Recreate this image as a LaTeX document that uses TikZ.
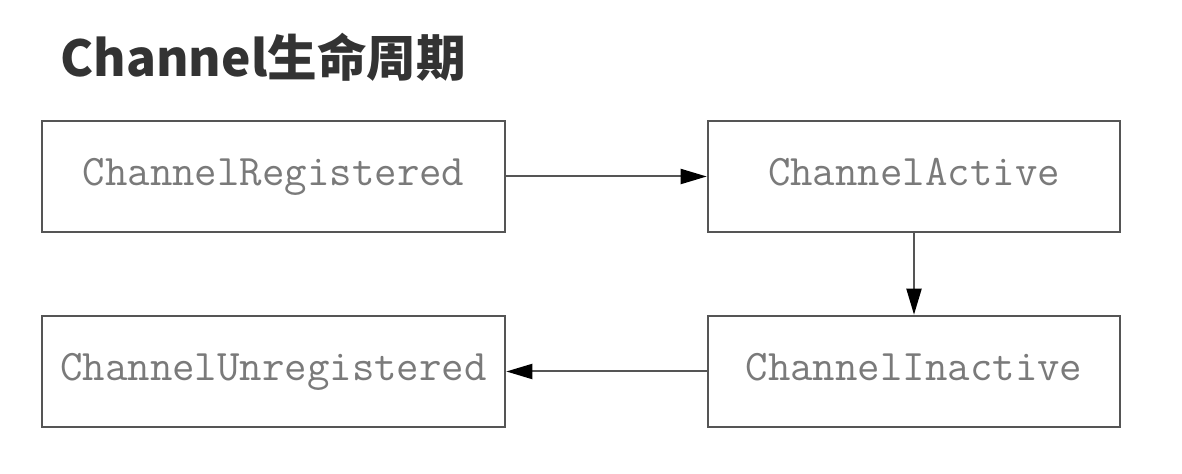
\documentclass[tikz,border=0pt]{standalone}
\usepackage{fontspec}
\newfontfamily\cjk{Noto Sans CJK SC}
\usepackage{xcolor}
\usetikzlibrary{positioning,arrows.meta}

\definecolor{boxline}{HTML}{555555}
\definecolor{boxtext}{HTML}{7A7A7A}
\definecolor{titletext}{HTML}{333333}

\tikzset{
    statebox/.style={draw=boxline, line width=1.3pt, rectangle, fill=white,
        minimum height=55.5pt, inner sep=0pt, text height=0.9em, text depth=0em,
        font=\ttfamily\fontsize{21.8}{23}\selectfont, text=boxtext},
    flow/.style={line width=1pt, color=boxline,
        -{Triangle[length=13pt,width=7.5pt,color=black]}}
}

\begin{document}
\begin{tikzpicture}[x=0.5pt, y=-0.5pt]
    \useasboundingbox (0,0) rectangle (1182,474);

    % title
    \node[anchor=base west, inner sep=0pt, text=titletext,
        font=\cjk\bfseries\fontsize{24.8}{28}\selectfont] (title) at (60,77) {Channel生命周期};

    % states
    \node[statebox, minimum width=231.5pt] (registered) at (273.5,176.5) {ChannelRegistered};
    \node[statebox, minimum width=206pt] (active) at (914,176.5) {ChannelActive};
    \node[statebox, minimum width=206pt] (inactive) at (914,371.5) {ChannelInactive};
    \node[statebox, minimum width=231.5pt] (unregistered) at (273.5,371.5) {ChannelUnregistered};

    % transitions
    \draw[flow] (registered) -- (active);
    \draw[flow] (active) -- (inactive);
    \draw[flow] (inactive) -- (unregistered);
\end{tikzpicture}
\end{document}
